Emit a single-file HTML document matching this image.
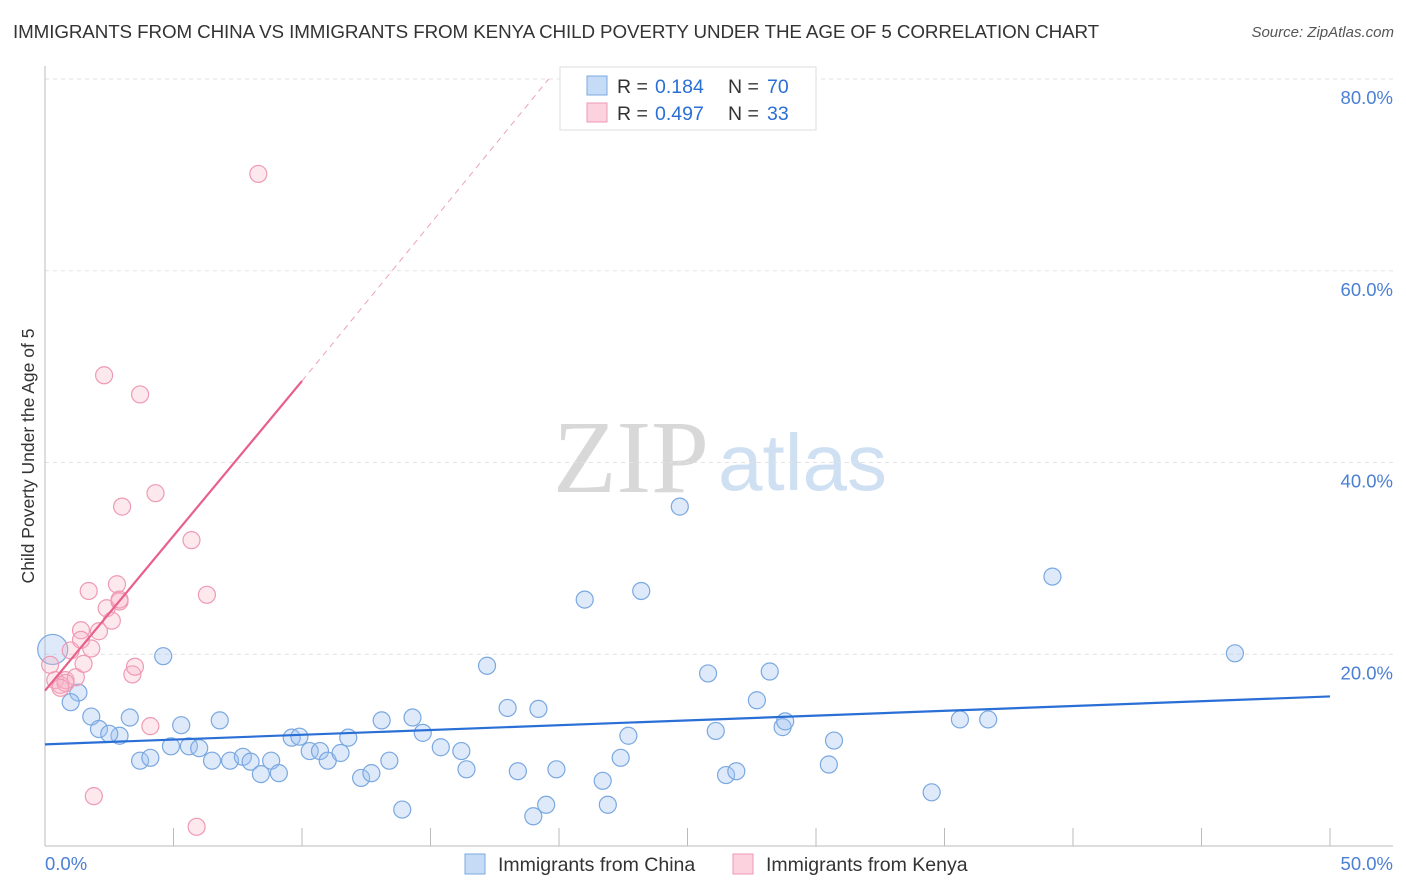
<!DOCTYPE html>
<html><head><meta charset="utf-8">
<style>
body{margin:0;background:#fff;font-family:"Liberation Sans",sans-serif;}
#wrap{position:relative;width:1406px;height:892px;overflow:hidden;}
.title{position:absolute;left:13px;top:21px;font-size:18.8px;color:#333;letter-spacing:-0.1px;}
.source{position:absolute;right:12px;top:24px;font-size:15px;color:#555;font-style:italic;}
</style></head><body>
<div id="wrap">
<div class="title">IMMIGRANTS FROM CHINA VS IMMIGRANTS FROM KENYA CHILD POVERTY UNDER THE AGE OF 5 CORRELATION CHART</div>
<div class="source">Source: ZipAtlas.com</div>
<svg id="chart" width="1406" height="892" style="position:absolute;left:0;top:0"></svg>
</div>
<script>
const chinaX=[0.3,1.3,1.0,1.8,2.1,2.9,2.5,3.3,3.7,4.1,4.6,4.9,5.3,5.6,6.0,6.5,6.8,7.2,7.7,8.0,8.4,8.8,9.1,9.6,9.9,10.3,10.7,11.0,11.5,11.8,12.3,12.7,13.1,13.4,13.9,14.3,14.7,15.4,16.2,16.4,17.2,18.0,18.4,19.0,19.2,19.5,19.9,21.0,21.7,21.9,22.4,22.7,23.2,24.7,25.8,26.1,26.5,26.9,27.7,28.2,28.7,28.8,30.5,30.7,34.5,35.6,36.7,39.2,46.3];
const chinaY=[20.5,16.0,15.0,13.5,12.2,11.5,11.7,13.4,8.9,9.2,19.8,10.4,12.6,10.4,10.2,8.9,13.1,8.9,9.3,8.8,7.5,8.9,7.6,11.3,11.4,9.9,9.9,8.9,9.7,11.3,7.1,7.6,13.1,8.9,3.8,13.4,11.8,10.3,9.9,8.0,18.8,14.4,7.8,3.1,14.3,4.3,8.0,25.7,6.8,4.3,9.2,11.5,26.6,35.4,18.0,12.0,7.4,7.8,15.2,18.2,12.4,13.0,8.5,11.0,5.6,13.2,13.2,28.1,20.1];
const kenyaX=[0.2,0.4,0.6,0.8,1.0,1.2,1.4,1.5,1.7,1.8,1.9,2.1,2.3,2.4,2.6,2.8,2.9,3.0,3.4,3.5,3.7,4.1,4.3,5.7,5.9,6.3,8.3,1.4,2.9,0.8,0.6];
const kenyaY=[18.9,17.3,16.8,17.3,20.4,17.6,22.5,19.0,26.6,20.6,5.2,22.4,49.1,24.8,23.5,27.3,25.5,35.4,17.9,18.7,47.1,12.5,36.8,31.9,2.0,26.2,70.1,21.5,25.7,17.0,16.5];
const yTicks=[20,40,60,80];
const seriesStats=[["0.184","70"],["0.497","33"]];
const seriesNames=["Immigrants from China","Immigrants from Kenya"];

const svg=document.getElementById('chart');
const NS='http://www.w3.org/2000/svg';
const X0=45,X1=1330,Y0=846,Y80=79;
const sx=v=>X0+(X1-X0)*v/50;
const sy=v=>Y0-(Y0-Y80)*v/80;
function mk(tag,attrs,parent){const e=document.createElementNS(NS,tag);for(const k in attrs)e.setAttribute(k,attrs[k]);(parent||svg).appendChild(e);return e;}

let wm=mk('text',{x:553,y:492,'font-size':104,'font-family':'Liberation Serif, serif',fill:'#d8d8d8'});wm.textContent='ZIP';


let wm2=mk('text',{x:718,y:490,'font-size':80,'font-family':'Liberation Sans, sans-serif',fill:'#cfe0f3'});wm2.textContent='atlas';



yTicks.forEach(t=>{
 let g=mk('line',{x1:X0,x2:1393,y1:sy(t),y2:sy(t),stroke:'#e2e2e2','stroke-dasharray':'4,4'});
 
 
 let l=mk('text',{x:1393,y:sy(t)+25,'text-anchor':'end','font-size':18.5,fill:'#4a7fd4'});l.textContent=t.toFixed(1)+'%';
 
 
});
let ax=mk('line',{x1:X0,x2:X0,y1:66,y2:Y0,stroke:'#bbb'});


let bx=mk('line',{x1:X0,x2:1393,y1:Y0,y2:Y0,stroke:'#bbb'});


for(let i=1;i<=10;i++){let t=mk('line',{x1:sx(i*5),x2:sx(i*5),y1:Y0,y2:Y0-18,stroke:'#bbb'});
 
 }
let xl=mk('text',{x:45,y:870,'font-size':18.5,fill:'#4a7fd4'});xl.textContent='0.0%';


let xr=mk('text',{x:1393,y:870,'text-anchor':'end','font-size':18.5,fill:'#4a7fd4'});xr.textContent='50.0%';


let yt=mk('text',{x:34,y:456,'text-anchor':'middle','font-size':17.5,fill:'#333',transform:'rotate(-90 34 456)'});yt.textContent='Child Poverty Under the Age of 5';



chinaX.forEach((x,i)=>{let c=mk('circle',{cx:sx(x),cy:sy(chinaY[i]),r:i==0?15:8.5,fill:'rgba(160,196,240,0.35)',stroke:'#7aa8e0','stroke-width':1.2});
 
 });
kenyaX.forEach((x,i)=>{let c=mk('circle',{cx:sx(x),cy:sy(kenyaY[i]),r:8.5,fill:'rgba(248,180,200,0.3)',stroke:'#ef9ab5','stroke-width':1.2});
 
 });

let tb=mk('line',{x1:sx(0),y1:sy(10.6),x2:sx(50),y2:sy(15.6),stroke:'#2a6fd6','stroke-width':2.2});


let tp=mk('line',{x1:sx(0),y1:sy(16.2),x2:sx(10),y2:sy(48.5),stroke:'#e8608c','stroke-width':2.2});


let tpd=mk('line',{x1:sx(10),y1:sy(48.5),x2:sx(19.6),y2:sy(80),stroke:'#eea0b8','stroke-width':1,'stroke-dasharray':'6,5'});



let lb=mk('rect',{x:560,y:67,width:256,height:63,fill:'#fff',stroke:'#ddd'});


const cols=[['rgba(160,196,240,0.6)','#7aa8e0'],['rgba(248,180,200,0.6)','#ef9ab5']];
seriesStats.forEach((s,i)=>{
 const y=86+i*27;
 let r=mk('rect',{x:587,y:y-10,width:20,height:19,fill:cols[i][0],stroke:cols[i][1]});
 
 
 let t=mk('text',{x:617,y:y+7,'font-size':19.5,fill:'#333'});
 t.innerHTML='R = <tspan x="655" fill="#2a6fd6">'+s[0]+'</tspan><tspan x="728">N = </tspan><tspan x="767" fill="#2a6fd6">'+s[1]+'</tspan>';
 
 
});
[[465,seriesNames[0]],[733,seriesNames[1]]].forEach((e,i)=>{
 let r=mk('rect',{x:e[0],y:854,width:20,height:20,fill:cols[i][0],stroke:cols[i][1]});
 
 
 let t=mk('text',{x:e[0]+33,y:871,'font-size':19.5,fill:'#333'});t.textContent=e[1];
 
 
});
</script>
</body></html>
